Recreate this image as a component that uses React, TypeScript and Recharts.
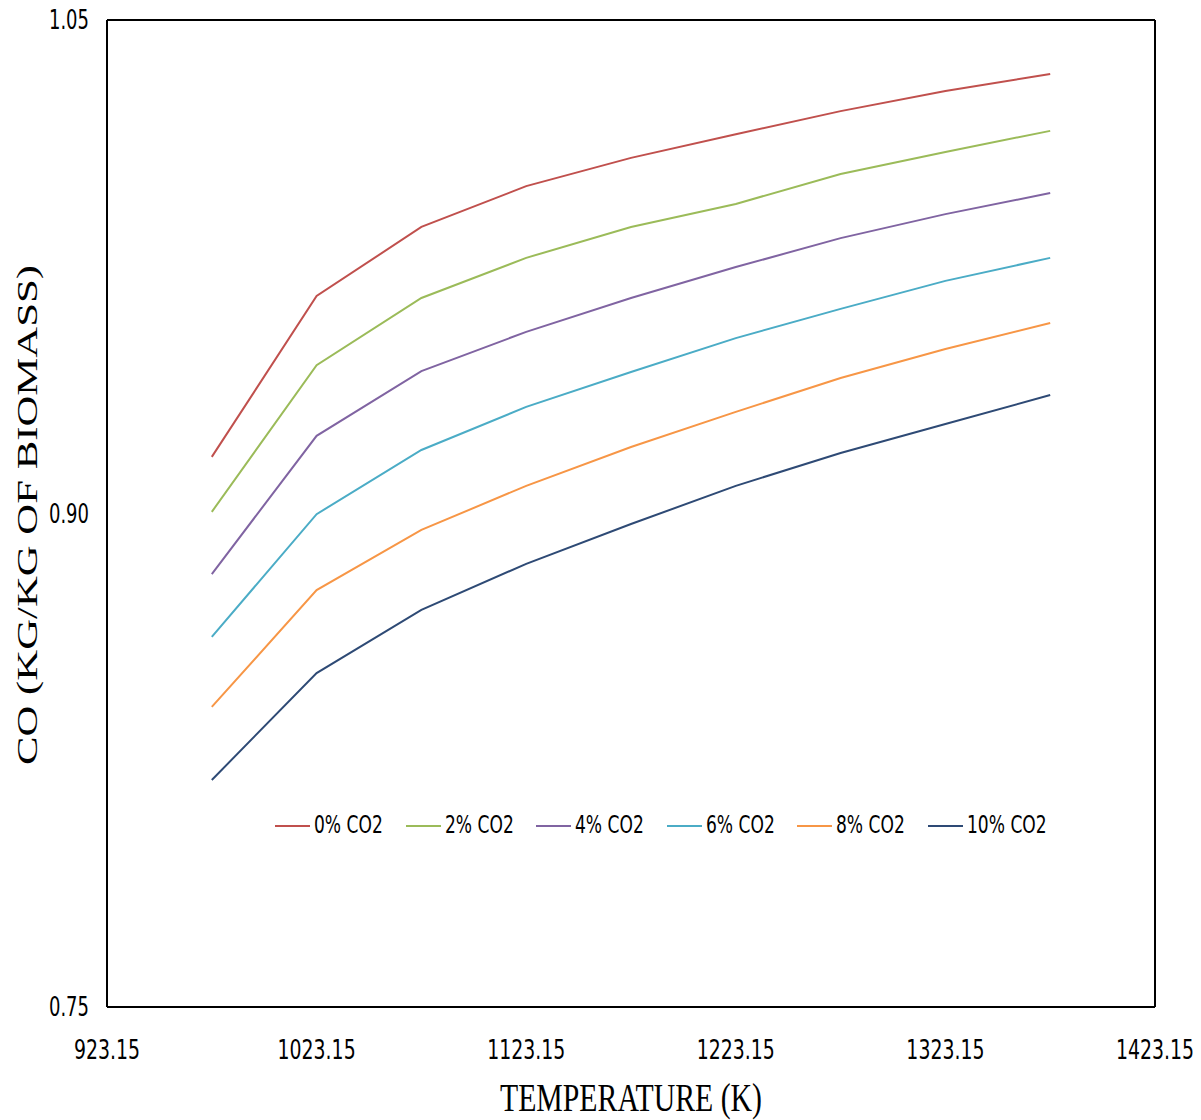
import React from 'react';
import { LineChart, Line, XAxis, YAxis, ReferenceLine } from 'recharts';

const temperatures = [973.15, 1023.15, 1073.15, 1123.15, 1173.15, 1223.15, 1273.15, 1323.15, 1373.15];
const co2_0 = [0.9172, 0.9661, 0.9871, 0.9995, 1.0081, 1.0153, 1.0223, 1.0284, 1.0336];
const co2_2 = [0.9005, 0.9451, 0.9655, 0.9777, 0.9871, 0.9941, 1.0032, 1.0099, 1.0163];
const co2_4 = [0.8816, 0.9236, 0.9433, 0.9552, 0.9655, 0.9749, 0.9837, 0.991, 0.9974];
const co2_6 = [0.8625, 0.8998, 0.9193, 0.9324, 0.943, 0.9533, 0.9622, 0.9707, 0.9777];
const co2_8 = [0.8412, 0.8767, 0.895, 0.9084, 0.9202, 0.9309, 0.9412, 0.95, 0.9579];
const co2_10 = [0.819, 0.8515, 0.8707, 0.8847, 0.8968, 0.9084, 0.9184, 0.9272, 0.936];

const xTicks = [923.15, 1023.15, 1123.15, 1223.15, 1323.15, 1423.15];
const yTicks = [0.75, 0.9, 1.05];

const seriesNames = ['0% CO2', '2% CO2', '4% CO2', '6% CO2', '8% CO2', '10% CO2'];
const seriesValues = [co2_0, co2_2, co2_4, co2_6, co2_8, co2_10];
const seriesColors = ['#C0504D', '#9BBB59', '#8064A2', '#4BACC6', '#F79646', '#2E4A75'];
const seriesKeys = ['s0', 's2', 's4', 's6', 's8', 's10'];

const data = temperatures.map((t, i) => {
  const row: Record<string, number> = { t };
  seriesKeys.forEach((k, j) => {
    row[k] = seriesValues[j][i];
  });
  return row;
});

const tickFont = '"Liberation Sans Narrow", "DejaVu Sans Condensed", "Liberation Sans", sans-serif';
const titleFont = '"Liberation Serif", "DejaVu Serif", serif';

const XTick = (props: any) => {
  const { x, y, payload } = props;
  return (
    <g transform={`translate(${x},${y + 44}) scale(1,1.3)`}>
      <text x={0} y={0} textAnchor="middle" fontFamily={tickFont} fontSize={21} fill="#000">
        {payload.value.toFixed(2)}
      </text>
    </g>
  );
};

const YTick = (props: any) => {
  const { x, y, payload } = props;
  return (
    <g transform={`translate(${x - 10},${y + 9}) scale(1,1.3)`}>
      <text x={0} y={0} textAnchor="end" fontFamily={tickFont} fontSize={20} fill="#000">
        {payload.value.toFixed(2)}
      </text>
    </g>
  );
};

const LegendBlock = () => (
  <div style={{ position: 'absolute', left: 275, top: 811, display: 'flex', flexDirection: 'row' }}>
    {seriesNames.map((n, i) => (
      <div key={n} style={{ display: 'flex', alignItems: 'center', width: 130.6, height: 30 }}>
        <svg width={37} height={30} style={{ display: 'block' }}>
          <line x1={0} y1={15} x2={35} y2={15} stroke={seriesColors[i]} strokeWidth={2} />
        </svg>
        <svg width={90} height={30} style={{ display: 'block' }}>
          <g transform="translate(2,22) scale(1,1.3)">
            <text x={0} y={0} fontFamily={tickFont} fontSize={19} fill="#000">{n}</text>
          </g>
        </svg>
      </div>
    ))}
  </div>
);

export default function App() {
  return (
    <div style={{ position: 'absolute', left: 0, top: 0, width: 1201, height: 1120, background: '#fff' }}>
      <LineChart
        width={1201}
        height={1120}
        data={data}
        margin={{ top: 20, right: 46, left: 0, bottom: 0 }}
      >
        <XAxis
          dataKey="t"
          type="number"
          domain={[923.15, 1423.15]}
          ticks={xTicks}
          height={113}
          tick={<XTick />}
          tickLine={false}
          axisLine={{ stroke: '#000', strokeWidth: 2 }}
          allowDataOverflow
        />
        <YAxis
          type="number"
          domain={[0.75, 1.05]}
          ticks={yTicks}
          width={107}
          tick={<YTick />}
          tickLine={false}
          axisLine={{ stroke: '#000', strokeWidth: 2 }}
          allowDataOverflow
        />
        <ReferenceLine y={1.05} stroke="#000" strokeWidth={2} ifOverflow="visible" />
        <ReferenceLine x={1423.15} stroke="#000" strokeWidth={2} ifOverflow="visible" />
        {seriesKeys.map((k, i) => (
          <Line
            key={k}
            type="linear"
            dataKey={k}
            name={seriesNames[i]}
            stroke={seriesColors[i]}
            strokeWidth={2}
            dot={false}
            activeDot={false}
            isAnimationActive={false}
          />
        ))}
        <text
          x={631}
          y={1111}
          textAnchor="middle"
          fontFamily={titleFont}
          fontSize={40}
          textLength={262}
          lengthAdjust="spacingAndGlyphs"
          fill="#000"
        >
          TEMPERATURE  (K)
        </text>
        <text
          transform="translate(37,515) rotate(-90)"
          x={0}
          y={0}
          textAnchor="middle"
          fontFamily={titleFont}
          fontSize={30}
          textLength={500}
          lengthAdjust="spacingAndGlyphs"
          fill="#000"
        >
          CO (KG/KG OF BIOMASS)
        </text>
      </LineChart>
      <LegendBlock />
    </div>
  );
}
